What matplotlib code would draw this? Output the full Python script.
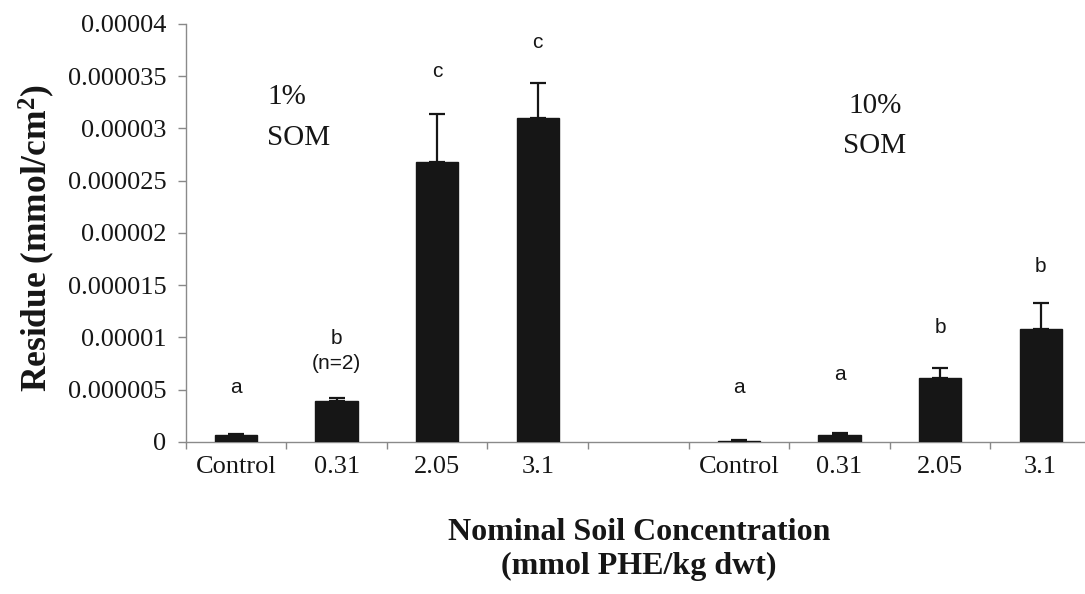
import numpy as np
import matplotlib
matplotlib.use("Agg")
import matplotlib.pyplot as plt

plt.rcParams["mathtext.fontset"] = "custom"
plt.rcParams["mathtext.rm"] = "Liberation Serif"
plt.rcParams["mathtext.bf"] = "Liberation Serif:bold"
plt.rcParams["mathtext.it"] = "Liberation Serif:italic"

# ---- data ----
categories = ["Control", "0.31", "2.05", "3.1"]
groups = ["1%\nSOM", "10%\nSOM"]
means_1 = [0.64e-6, 3.95e-6, 26.8e-6, 31.0e-6]
err_1 = [0.16e-6, 0.23e-6, 4.6e-6, 3.4e-6]
means_10 = [0.12e-6, 0.67e-6, 6.15e-6, 10.8e-6]
err_10 = [0.08e-6, 0.19e-6, 0.9e-6, 2.5e-6]
letters_1 = ["a", "b\n(n=2)", "c", "c"]
letters_10 = ["a", "a", "b", "b"]
ytick_vals = [0, 0.000005, 0.00001, 0.000015, 0.00002, 0.000025, 0.00003, 0.000035, 0.00004]
ytick_labels = ["0", "0.000005", "0.00001", "0.000015", "0.00002", "0.000025",
                "0.00003", "0.000035", "0.00004"]

serif = ["Liberation Serif", "DejaVu Serif"]
sans = ["Liberation Sans", "DejaVu Sans"]
ink = "#161616"

fig = plt.figure(figsize=(10.85, 5.94), dpi=100)
ax = fig.add_axes([0.1712, 0.2559, 0.8343, 0.7037])

n = len(categories)
x1 = np.arange(n)
x10 = np.arange(n) + n + 1
bw = 0.42
for xs, m, e in [(x1, means_1, err_1), (x10, means_10, err_10)]:
    ax.bar(xs, m, width=bw, color=ink, edgecolor=ink, zorder=3)
    ax.errorbar(xs, m, yerr=[np.zeros(n), e], fmt="none", ecolor=ink,
                elinewidth=1.6, capsize=6, capthick=1.6, zorder=4)

# significance letters (offset above bars)
let_y_1 = [5.26e-6, 8.7e-6, 35.5e-6, 38.2e-6]
let_y_10 = [5.17e-6, 6.5e-6, 11.0e-6, 16.75e-6]
for xs, labs, ys in [(x1, letters_1, let_y_1), (x10, letters_10, let_y_10)]:
    for xx, lab, yy in zip(xs, labs, ys):
        ax.text(xx, yy, lab, ha="center", va="center", fontsize=15,
                family=sans, color=ink, linespacing=1.45)

# group labels
g1 = groups[0].split("\n")
ax.text(0.31, 33.0e-6, g1[0], ha="left", va="center", fontsize=21, family=serif, color=ink)
ax.text(0.31, 29.1e-6, g1[1], ha="left", va="center", fontsize=21, family=serif, color=ink)
g2 = groups[1].split("\n")
ax.text(6.35, 32.15e-6, g2[0], ha="center", va="center", fontsize=21, family=serif, color=ink)
ax.text(6.35, 28.3e-6, g2[1], ha="center", va="center", fontsize=21, family=serif, color=ink)

ax.set_xlim(-0.5, 2 * n + 0.5)
ax.set_ylim(0, 0.00004)
ax.set_yticks(ytick_vals)
ax.set_yticklabels(ytick_labels, family=serif, fontsize=19, color=ink)
ax.set_xticks(list(x1) + list(x10))
ax.set_xticklabels(categories + categories, family=serif, fontsize=19, color=ink)
ax.set_xticks(np.arange(-0.5, 2 * n + 1, 1.0), minor=True)
ax.tick_params(axis="x", which="major", length=0, pad=10)
ax.tick_params(axis="x", which="minor", length=5, direction="out", color="#888888", width=1)
ax.tick_params(axis="y", length=6, direction="out", color="#888888", width=1, pad=8)

for s in ["top", "right"]:
    ax.spines[s].set_visible(False)
for s in ["left", "bottom"]:
    ax.spines[s].set_color("#8a8a8a")
    ax.spines[s].set_linewidth(1.0)
ax.set_facecolor("white")

fig.text(37 / 1085, 1 - 238 / 594, r"Residue (mmol/cm$^{\mathbf{2}}$)", rotation=90,
         ha="center", va="center", fontsize=25.5, fontweight="bold", family=serif, color=ink)
fig.text(639 / 1085, 1 - 532 / 594, "Nominal Soil Concentration", ha="center", va="center",
         fontsize=23, fontweight="bold", family=serif, color=ink)
fig.text(639 / 1085, 1 - 566 / 594, "(mmol PHE/kg dwt)", ha="center", va="center",
         fontsize=23, fontweight="bold", family=serif, color=ink)

fig.savefig("out.png", dpi=100, facecolor="white")
